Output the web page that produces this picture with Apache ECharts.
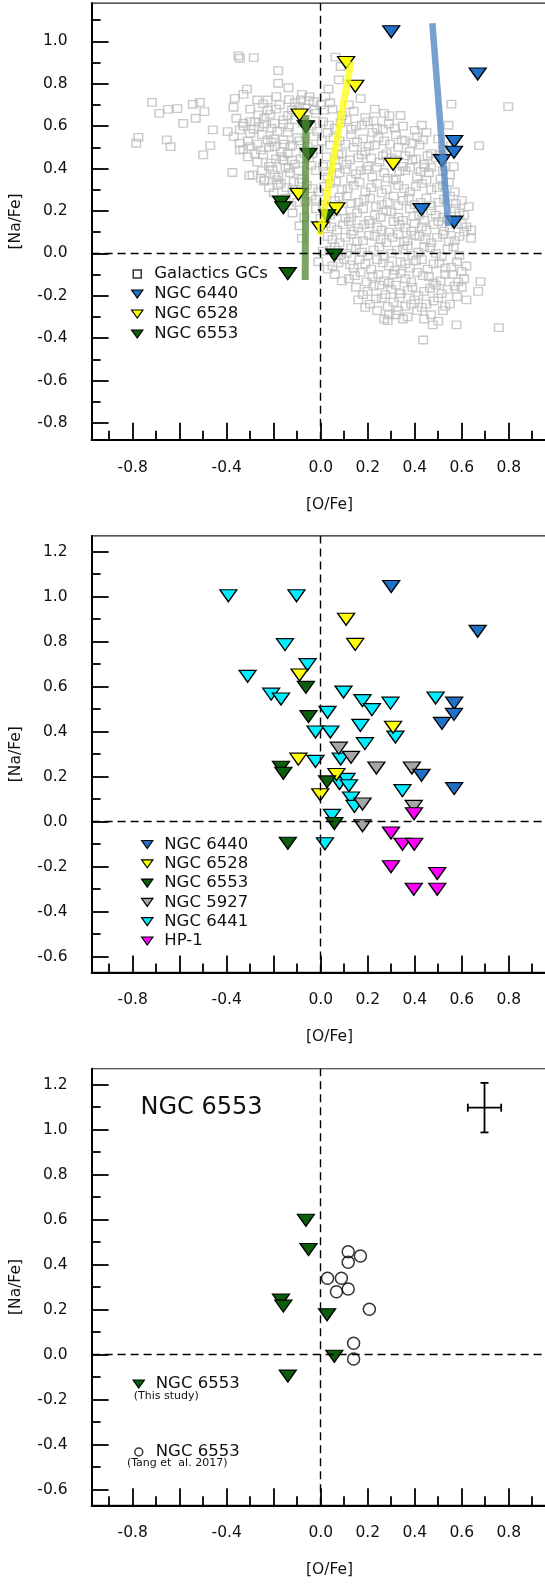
<!DOCTYPE html>
<html><head><meta charset="utf-8">
<script src="https://cdn.jsdelivr.net/npm/echarts@6/dist/echarts.min.js"></script>
<style>html,body{margin:0;padding:0;background:#fff;overflow:hidden}#c{width:545px;height:1585px}</style>
</head><body><div id="c"></div>
<script>
// ---------------- DATA ----------------
const galacticGCs = [
[-0.718,0.712],[-0.687,0.660],[-0.650,0.679],[-0.610,0.682],[-0.544,0.703],[-0.514,0.712],[-0.532,0.637],[-0.495,0.668],[-0.585,0.613],[-0.459,0.582],
[-0.785,0.519],[-0.776,0.547],[-0.655,0.535],[-0.639,0.503],[-0.470,0.508],[-0.500,0.464],[-0.376,0.381],[-0.304,0.366],[-0.240,0.341],[-0.188,0.346],
[-0.351,0.931],[-0.344,0.920],[-0.285,0.923],[-0.181,0.862],[-0.181,0.802],[-0.137,0.781],[-0.314,0.774],[-0.329,0.750],[-0.366,0.731],[-0.371,0.689],
[0.063,0.925],[0.085,0.881],[0.077,0.818],[0.033,0.774],[0.556,0.704],[0.798,0.692],[0.292,0.649],[0.430,0.604],[0.544,0.604],[0.674,0.508],
[0.554,0.508],[0.443,0.406],[0.566,0.409],[0.680,-0.134],[0.436,-0.409],[0.758,-0.351],[0.578,-0.338],[0.477,-0.338],[0.285,-0.318],
[-0.270,0.723],[-0.226,0.723],[-0.189,0.739],[-0.226,0.676],[-0.267,0.653],[-0.359,0.637],[-0.329,0.613],[-0.300,0.621],[-0.396,0.574],[-0.344,0.582],
[-0.300,0.566],[-0.263,0.597],[-0.240,0.637],[-0.196,0.613],[-0.159,0.629],[-0.122,0.676],[-0.085,0.723],[-0.048,0.739],[-0.092,0.692],[-0.026,0.676],
[-0.226,0.535],[-0.196,0.503],[-0.159,0.535],[-0.129,0.503],[-0.255,0.487],[-0.300,0.503],[-0.344,0.487],[-0.211,0.425],[-0.166,0.456],[-0.122,0.440],
[-0.240,0.346],[-0.196,0.370],[-0.137,0.401],[-0.115,0.338],[-0.181,0.322],
[-0.05,0.72],[0.00,0.70],[0.02,0.74],[-0.11,0.71],[0.04,0.71],[0.12,0.70],[0.17,0.73],[-0.08,0.75],
[-0.02,0.66],[0.05,0.68],[0.09,0.65],[0.14,0.67],[0.19,0.64],[0.23,0.68],[0.27,0.66],[-0.14,0.65],[-0.19,0.68],[0.34,0.65],
[-0.33,0.60],[-0.28,0.62],[-0.21,0.59],[-0.16,0.61],[-0.11,0.63],[-0.04,0.60],[0.01,0.62],[0.06,0.59],[0.11,0.63],[0.15,0.60],[0.20,0.62],[0.24,0.59],[0.29,0.61],[0.35,0.60],[0.40,0.58],
[-0.37,0.55],[-0.31,0.53],[-0.25,0.56],[-0.20,0.54],[-0.14,0.57],[-0.09,0.53],[-0.03,0.55],[0.03,0.57],[0.08,0.53],[0.13,0.56],[0.18,0.54],[0.22,0.57],[0.27,0.53],[0.32,0.56],[0.36,0.53],[0.41,0.55],[0.45,0.57],[0.50,0.54],
[-0.33,0.49],[-0.28,0.47],[-0.22,0.50],[-0.17,0.48],[-0.12,0.51],[-0.07,0.47],[-0.01,0.49],[0.04,0.51],[0.09,0.47],[0.14,0.50],[0.19,0.48],[0.23,0.51],[0.28,0.47],[0.33,0.50],[0.38,0.48],[0.42,0.51],[0.47,0.47],[0.52,0.49],
[-0.27,0.43],[-0.22,0.41],[-0.16,0.44],[-0.11,0.42],[-0.05,0.45],[0.01,0.41],[0.06,0.44],[0.11,0.42],[0.16,0.45],[0.20,0.41],[0.25,0.43],[0.30,0.45],[0.35,0.41],[0.39,0.44],[0.44,0.42],[0.49,0.45],[0.53,0.41],
[-0.29,0.37],[-0.25,0.39],[-0.18,0.36],[-0.13,0.38],[-0.08,0.35],[-0.02,0.39],[0.03,0.36],[0.08,0.38],[0.13,0.35],[0.17,0.39],[0.22,0.36],[0.27,0.38],[0.32,0.35],[0.36,0.39],[0.41,0.36],[0.46,0.38],[0.51,0.35],[0.55,0.37],
[-0.22,0.31],[-0.17,0.33],[-0.12,0.30],[-0.06,0.32],[-0.01,0.29],[0.04,0.33],[0.09,0.30],[0.14,0.32],[0.19,0.29],[0.24,0.33],[0.28,0.30],[0.33,0.32],[0.38,0.29],[0.43,0.33],[0.47,0.30],[0.52,0.32],[0.57,0.29],
[-0.15,0.26],[-0.10,0.24],[-0.04,0.27],[0.01,0.23],[0.06,0.25],[0.11,0.27],[0.16,0.24],[0.21,0.26],[0.26,0.23],[0.31,0.27],[0.35,0.25],[0.40,0.23],[0.45,0.26],[0.50,0.24],[0.55,0.27],[0.60,0.25],[0.63,0.22],
[-0.12,0.19],[-0.07,0.17],[-0.02,0.21],[0.04,0.18],[0.09,0.20],[0.13,0.17],[0.18,0.21],[0.23,0.18],[0.28,0.20],[0.33,0.17],[0.38,0.21],[0.42,0.18],[0.47,0.20],[0.52,0.17],[0.57,0.21],[0.61,0.18],
[-0.09,0.13],[0.02,0.14],[0.07,0.11],[0.12,0.15],[0.16,0.12],[0.21,0.14],[0.26,0.11],[0.31,0.15],[0.36,0.12],[0.40,0.14],[0.45,0.11],[0.50,0.15],[0.55,0.12],[0.60,0.14],[0.64,0.11],
[-0.08,0.07],[0.03,0.08],[0.08,0.05],[0.13,0.09],[0.18,0.06],[0.23,0.08],[0.28,0.05],[0.33,0.09],[0.37,0.06],[0.42,0.08],[0.47,0.05],[0.52,0.09],[0.57,0.06],[0.61,0.10],[0.64,0.07],
[0.01,0.01],[0.06,0.03],[0.11,0.00],[0.15,0.02],[0.20,-0.01],[0.25,0.03],[0.30,0.00],[0.35,0.02],[0.39,-0.01],[0.44,0.03],[0.49,0.00],[0.54,0.02],[0.59,-0.01],
[-0.01,-0.04],[0.05,-0.06],[0.10,-0.03],[0.14,-0.07],[0.19,-0.05],[0.24,-0.03],[0.29,-0.06],[0.34,-0.04],[0.38,-0.07],[0.43,-0.03],[0.48,-0.05],[0.53,-0.07],[0.58,-0.04],[0.62,-0.06],
[0.06,-0.10],[0.12,-0.12],[0.17,-0.09],[0.22,-0.11],[0.27,-0.13],[0.31,-0.10],[0.36,-0.12],[0.41,-0.09],[0.46,-0.11],[0.51,-0.13],[0.56,-0.10],[0.61,-0.12],
[0.15,-0.16],[0.20,-0.18],[0.25,-0.15],[0.30,-0.17],[0.34,-0.19],[0.39,-0.16],[0.44,-0.18],[0.49,-0.15],[0.54,-0.17],[0.60,-0.16],[0.67,-0.18],
[0.16,-0.22],[0.21,-0.24],[0.26,-0.21],[0.31,-0.23],[0.36,-0.25],[0.40,-0.22],[0.45,-0.24],[0.50,-0.21],[0.55,-0.24],[0.62,-0.22],
[0.24,-0.27],[0.29,-0.29],[0.33,-0.27],[0.37,-0.30],[0.41,-0.27],[0.47,-0.29],[0.52,-0.27],
[-0.30,0.68],[-0.245,0.705],[-0.215,0.655],[-0.175,0.70],[-0.135,0.725],[-0.065,0.685],[-0.03,0.715],[0.015,0.675],
[-0.285,0.585],[-0.24,0.61],[-0.185,0.575],[-0.135,0.595],[-0.075,0.615],[-0.015,0.575],[0.035,0.605],[0.085,0.615],[0.13,0.585],[0.175,0.605],[0.225,0.625],[0.265,0.585],[0.315,0.59],
[-0.345,0.52],[-0.27,0.515],[-0.21,0.525],[-0.155,0.515],[-0.10,0.545],[-0.055,0.505],[0.005,0.53],[0.055,0.545],[0.105,0.515],[0.155,0.525],[0.205,0.505],[0.245,0.545],[0.295,0.515],[0.345,0.535],[0.39,0.52],[0.435,0.535],
[-0.31,0.455],[-0.245,0.465],[-0.19,0.445],[-0.14,0.47],[-0.085,0.445],[-0.035,0.47],[0.025,0.455],[0.075,0.465],[0.125,0.44],[0.175,0.465],[0.215,0.45],[0.265,0.46],[0.315,0.44],[0.36,0.46],[0.405,0.445],[0.455,0.46],[0.51,0.465],
[-0.255,0.355],[-0.205,0.395],[-0.15,0.405],[-0.095,0.39],[-0.04,0.415],[0.02,0.385],[0.065,0.405],[0.105,0.395],[0.15,0.375],[0.195,0.395],[0.24,0.405],[0.285,0.355],[0.335,0.385],[0.38,0.405],[0.425,0.385],[0.47,0.405],[0.52,0.39],
[-0.20,0.285],[-0.145,0.31],[-0.09,0.335],[-0.035,0.305],[0.015,0.315],[0.065,0.34],[0.115,0.305],[0.165,0.335],[0.215,0.31],[0.26,0.285],[0.31,0.345],[0.355,0.305],[0.405,0.315],[0.45,0.345],[0.495,0.31],[0.545,0.335],
[-0.125,0.225],[-0.065,0.245],[-0.02,0.255],[0.03,0.215],[0.08,0.265],[0.13,0.235],[0.185,0.255],[0.235,0.22],[0.285,0.24],[0.33,0.225],[0.375,0.26],[0.425,0.24],[0.47,0.225],[0.525,0.255],[0.575,0.235],
[0.00,0.165],[0.06,0.195],[0.105,0.165],[0.155,0.19],[0.205,0.155],[0.255,0.17],[0.30,0.195],[0.35,0.155],[0.395,0.175],[0.44,0.155],[0.49,0.18],[0.54,0.16],[0.59,0.19],
[0.045,0.125],[0.095,0.135],[0.14,0.105],[0.185,0.135],[0.24,0.125],[0.29,0.10],[0.335,0.135],[0.385,0.105],[0.43,0.125],[0.48,0.135],[0.525,0.105],[0.575,0.135],[0.62,0.125],
[0.05,0.065],[0.105,0.075],[0.155,0.055],[0.205,0.085],[0.255,0.065],[0.305,0.075],[0.355,0.055],[0.40,0.085],[0.445,0.065],[0.495,0.075],[0.545,0.055],[0.59,0.08],
[0.04,0.015],[0.085,-0.01],[0.13,0.025],[0.175,0.005],[0.225,0.015],[0.27,-0.015],[0.325,0.015],[0.37,0.035],[0.415,0.005],[0.465,0.025],[0.515,-0.015],[0.565,0.03],
[0.03,-0.075],[0.075,-0.045],[0.125,-0.055],[0.165,-0.03],[0.215,-0.075],[0.265,-0.045],[0.315,-0.08],[0.36,-0.05],[0.405,-0.035],[0.455,-0.075],[0.505,-0.045],[0.555,-0.065],[0.60,-0.085],
[0.09,-0.13],[0.145,-0.105],[0.195,-0.135],[0.245,-0.10],[0.29,-0.14],[0.34,-0.095],[0.385,-0.135],[0.435,-0.105],[0.48,-0.14],[0.53,-0.10],[0.585,-0.135],
[0.18,-0.195],[0.225,-0.155],[0.275,-0.195],[0.32,-0.15],[0.37,-0.175],[0.415,-0.20],[0.465,-0.165],[0.515,-0.19],[0.57,-0.155],
[0.19,-0.255],[0.235,-0.215],[0.285,-0.25],[0.335,-0.21],[0.385,-0.24],[0.43,-0.255],[0.48,-0.225],[0.53,-0.25],[0.58,-0.205],
[0.27,-0.31],[0.32,-0.29],[0.35,-0.31],[0.44,-0.31],[0.50,-0.32]
];
const ngc6440 = [[0.300,1.045],[0.668,0.846],[0.568,0.527],[0.567,0.477],[0.516,0.437],[0.429,0.206],[0.568,0.147]];
const ngc6528 = [[0.108,0.900],[0.147,0.788],[-0.090,0.652],[0.308,0.420],[-0.095,0.278],[0.067,0.210],[-0.002,0.120]];
const ngc6553 = [[-0.063,0.597],[-0.052,0.467],[-0.169,0.242],[-0.159,0.215],[0.027,0.177],[0.058,-0.008],[-0.140,-0.096]];
const ngc5927 = [[0.077,0.327],[0.129,0.286],[0.237,0.239],[0.388,0.239],[0.178,0.079],[0.396,0.068],[0.178,-0.018]];
const ngc6441 = [[-0.393,1.004],[-0.103,1.004],[-0.152,0.787],[-0.056,0.698],[-0.311,0.646],[-0.211,0.567],[-0.169,0.545],[0.097,0.576],
[0.029,0.486],[0.178,0.538],[0.218,0.498],[0.297,0.527],[0.489,0.550],[-0.022,0.399],[0.041,0.399],[0.169,0.428],[0.318,0.376],[0.188,0.347],
[-0.022,0.268],[0.085,0.279],[0.080,0.170],[0.110,0.188],[0.120,0.160],[0.348,0.138],[0.129,0.105],[0.144,0.068],[0.048,0.028],[0.018,-0.098]];
const hp1 = [[0.397,0.035],[0.299,-0.050],[0.348,-0.100],[0.398,-0.100],[0.299,-0.200],[0.496,-0.230],[0.396,-0.300],[0.496,-0.300]];
const ngc6553Tang = [[0.117,0.457],[0.169,0.438],[0.117,0.410],[0.029,0.339],[0.088,0.339],[0.067,0.279],[0.117,0.291],[0.207,0.201],[0.140,0.050],[0.140,-0.020]];
const trend6553 = [[-0.063,0.652],[-0.066,-0.126]];
const trend6528 = [[0.129,0.904],[-0.004,0.086]];
const trend6440 = [[0.475,1.085],[0.543,0.129]];
const errorBar = [[0.697,1.097,0.071,0.110]]; // x, y, xerr, yerr
const xMajorTicks = [-0.8,-0.6,-0.4,-0.2,0,0.2,0.4,0.6,0.8,1.0];
const xMinorTicks = [-0.9,-0.7,-0.5,-0.3,-0.1,0.1,0.3,0.5,0.7,0.9];
const xTickLabels = [-0.8,-0.4,0,0.2,0.4,0.6,0.8];
const yMajorTicksTop = [-0.8,-0.6,-0.4,-0.2,0,0.2,0.4,0.6,0.8,1.0];
const yMinorTicksTop = [-0.7,-0.5,-0.3,-0.1,0.1,0.3,0.5,0.7,0.9,1.1];
const yMajorTicks = [-0.6,-0.4,-0.2,0,0.2,0.4,0.6,0.8,1.0,1.2];
const yMinorTicks = [-0.5,-0.3,-0.1,0.1,0.3,0.5,0.7,0.9,1.1];

// ---------------- STYLE / LAYOUT ----------------
const FONT = 'DejaVu Sans';
const fmt = v => (Math.abs(v) < 1e-9 ? 0 : v).toFixed(1);
const triIcon = 'path://M0,0L12,0L6,8.5Z';
const sqIcon = 'path://M0,0L10,0L10,10L0,10Z';
const panels = [
  {top: 3.14, height: 436.72, yMin: -0.88, yMax: 1.18, yMaj: yMajorTicksTop, yMin_: yMinorTicksTop},
  {top: 535.95, height: 436.5, yMin: -0.67, yMax: 1.27, yMaj: yMajorTicks, yMin_: yMinorTicks},
  {top: 1068.75, height: 436.5, yMin: -0.67, yMax: 1.27, yMaj: yMajorTicks, yMin_: yMinorTicks}
];
const grids = [], xAxes = [], yAxes = [];
panels.forEach((p, i) => {
  grids.push({left: 91.6, right: -22.45, top: p.top, height: p.height, show: true,
    borderColor: '#222', borderWidth: 1.2, backgroundColor: 'transparent', containLabel: false, outerBoundsMode: 'none'});
  const xBase = {type: 'value', gridIndex: i, min: -0.975, max: 1.05, position: 'bottom', splitLine: {show: false}};
  xAxes.push(Object.assign({}, xBase, {
    axisLine: {show: true, onZero: false, lineStyle: {color: '#000', width: 2}},
    axisTick: {show: true, inside: true, length: 17, customValues: xMajorTicks, lineStyle: {color: '#000', width: 1.8}},
    axisLabel: {show: true, customValues: xTickLabels, formatter: fmt, margin: 20, fontFamily: FONT, fontSize: 15.5, color: '#111'},
    name: '[O/Fe]', nameLocation: 'middle', nameGap: 57, nameTextStyle: {fontFamily: FONT, fontSize: 15.5, color: '#111'}
  }));
  xAxes.push(Object.assign({}, xBase, {
    axisLine: {show: false, onZero: false}, axisLabel: {show: false},
    axisTick: {show: true, inside: true, length: 9, customValues: xMinorTicks, lineStyle: {color: '#000', width: 1.8}}
  }));
  const yBase = {type: 'value', gridIndex: i, min: p.yMin, max: p.yMax, position: 'left', splitLine: {show: false}};
  yAxes.push(Object.assign({}, yBase, {
    axisLine: {show: true, onZero: false, lineStyle: {color: '#000', width: 2}},
    axisTick: {show: true, inside: true, length: 17, customValues: p.yMaj, lineStyle: {color: '#000', width: 1.8}},
    axisLabel: {show: true, customValues: p.yMaj, formatter: fmt, margin: 24, fontFamily: FONT, fontSize: 15.5, color: '#111'},
    name: '[Na/Fe]', nameLocation: 'middle', nameGap: 68, nameTextStyle: {fontFamily: FONT, fontSize: 15.5, color: '#111'}
  }));
  yAxes.push(Object.assign({}, yBase, {
    axisLine: {show: false, onZero: false}, axisLabel: {show: false},
    axisTick: {show: true, inside: true, length: 9, customValues: p.yMin_, lineStyle: {color: '#000', width: 1.8}}
  }));
});

const tri = (name, data, color, panel, z) => ({
  type: 'scatter', name, data, xAxisIndex: panel * 2, yAxisIndex: panel * 2,
  symbol: 'triangle', symbolRotate: 180, symbolSize: [17, 12], z: z || 3,
  itemStyle: {color, borderColor: '#000', borderWidth: 1.3, opacity: 1},
  emphasis: {disabled: true}, silent: true
});
const band = (data, color, width) => ({
  type: 'line', data, xAxisIndex: 0, yAxisIndex: 0, symbol: 'none', z: 4, silent: true,
  lineStyle: {color, width, cap: 'butt'}
});
const dashLines = {
  silent: true, symbol: ['none', 'none'], label: {show: false}, emphasis: {disabled: true},
  lineStyle: {type: [8, 5], color: '#000', width: 1.4}, data: [{xAxis: 0}, {yAxis: 0}]
};
const C6440 = '#1f72c8', C6528 = '#ffff00', C6553 = '#0b5e0b', C5927 = '#a6a6a6', C6441 = '#00eeff', CHP1 = '#ff00ff';

const series = [
  // panel 1
  {type: 'scatter', name: 'Galactics GCs', data: galacticGCs, xAxisIndex: 0, yAxisIndex: 0, symbol: 'rect', symbolSize: [8.5, 7.5], z: 1,
   itemStyle: {color: 'rgba(255,255,255,0)', borderColor: '#bdbdbd', borderWidth: 1.4}, silent: true, markLine: dashLines},
  tri('NGC 6440', ngc6440, C6440, 0),
  tri('NGC 6528', ngc6528, C6528, 0),
  tri('NGC 6553', ngc6553, C6553, 0),
  band(trend6553, 'rgba(80,135,50,0.75)', 7),
  band(trend6528, 'rgba(255,255,20,0.78)', 7),
  band(trend6440, 'rgba(80,135,195,0.78)', 6.5),
  // panel 2
  {type: 'scatter', data: [], xAxisIndex: 2, yAxisIndex: 2, silent: true, markLine: dashLines},
  tri('NGC 6441', ngc6441, C6441, 1),
  tri('NGC 5927', ngc5927, C5927, 1),
  tri('HP-1', hp1, CHP1, 1),
  tri('NGC 6440', ngc6440, C6440, 1),
  tri('NGC 6528', ngc6528, C6528, 1),
  tri('NGC 6553', ngc6553, C6553, 1),
  // panel 3
  {type: 'scatter', data: [], xAxisIndex: 4, yAxisIndex: 4, silent: true, markLine: dashLines},
  tri('NGC 6553', ngc6553, C6553, 2),
  {type: 'scatter', name: 'NGC 6553 (Tang et al. 2017)', data: ngc6553Tang, xAxisIndex: 4, yAxisIndex: 4, symbol: 'circle', symbolSize: 12, z: 3,
   itemStyle: {color: 'rgba(255,255,255,0)', borderColor: '#000', borderWidth: 1.5}, silent: true},
  {type: 'custom', data: errorBar, xAxisIndex: 4, yAxisIndex: 4, silent: true, z: 3,
   renderItem: function (params, api) {
     const x = api.value(0), y = api.value(1), ex = api.value(2), ey = api.value(3);
     const l = api.coord([x - ex, y]), r = api.coord([x + ex, y]);
     const t = api.coord([x, y + ey]), b = api.coord([x, y - ey]);
     const cap = 4, st = {stroke: '#000', lineWidth: 1.8};
     const ln = (x1, y1, x2, y2) => ({type: 'line', shape: {x1, y1, x2, y2}, style: st});
     return {type: 'group', children: [
       ln(l[0], l[1], r[0], r[1]), ln(t[0], t[1], b[0], b[1]),
       ln(l[0], l[1] - cap, l[0], l[1] + cap), ln(r[0], r[1] - cap, r[0], r[1] + cap),
       ln(t[0] - cap, t[1], t[0] + cap, t[1]), ln(b[0] - cap, b[1], b[0] + cap, b[1])
     ]};
   }}
];

const legendBase = {orient: 'vertical', itemWidth: 24, itemHeight: 8, padding: 0, selectedMode: false,
  symbolRotate: 0, itemStyle: {borderWidth: 1.2, borderColor: '#000'},
  textStyle: {fontFamily: FONT, fontSize: 16.5, color: '#111'}};
const legends = [
  Object.assign({}, legendBase, {left: 131, top: 265.5, itemGap: 3, data: [
    {name: 'Galactics GCs', icon: sqIcon, itemStyle: {color: '#fff', borderColor: '#000', borderWidth: 1.5}},
    {name: 'NGC 6440', icon: triIcon}, {name: 'NGC 6528', icon: triIcon}, {name: 'NGC 6553', icon: triIcon}]}),
  Object.assign({}, legendBase, {left: 141, top: 836, itemGap: 2.3, data: [
    {name: 'NGC 6440', icon: triIcon}, {name: 'NGC 6528', icon: triIcon}, {name: 'NGC 6553', icon: triIcon},
    {name: 'NGC 5927', icon: triIcon}, {name: 'NGC 6441', icon: triIcon}, {name: 'HP-1', icon: triIcon}]}),
  Object.assign({}, legendBase, {left: 132.5, top: 1375.5, itemGap: 51,
    formatter: n => n.indexOf('NGC 6553') === 0 ? 'NGC 6553' : n,
    data: [{name: 'NGC 6553', icon: triIcon},
      {name: 'NGC 6553 (Tang et al. 2017)', icon: 'circle', itemStyle: {color: '#fff', borderColor: '#000', borderWidth: 1.5}}]})
];

const chart = echarts.init(document.getElementById('c'), null, {renderer: 'canvas'});
chart.setOption({
  animation: false,
  backgroundColor: '#fff',
  grid: grids, xAxis: xAxes, yAxis: yAxes, legend: legends, series,
  graphic: [
    {type: 'text', x: 140.5, y: 1107.7, silent: true, style: {text: 'NGC 6553', font: '24px "DejaVu Sans"', fill: '#111', verticalAlign: 'middle'}},
    {type: 'text', x: 133.8, y: 1395.7, silent: true, style: {text: '(This study)', font: '11px "DejaVu Sans"', fill: '#111', verticalAlign: 'middle'}},
    {type: 'text', x: 126.9, y: 1462.7, silent: true, style: {text: '(Tang et  al. 2017)', font: '11px "DejaVu Sans"', fill: '#111', verticalAlign: 'middle'}}
  ]
});
</script></body></html>
